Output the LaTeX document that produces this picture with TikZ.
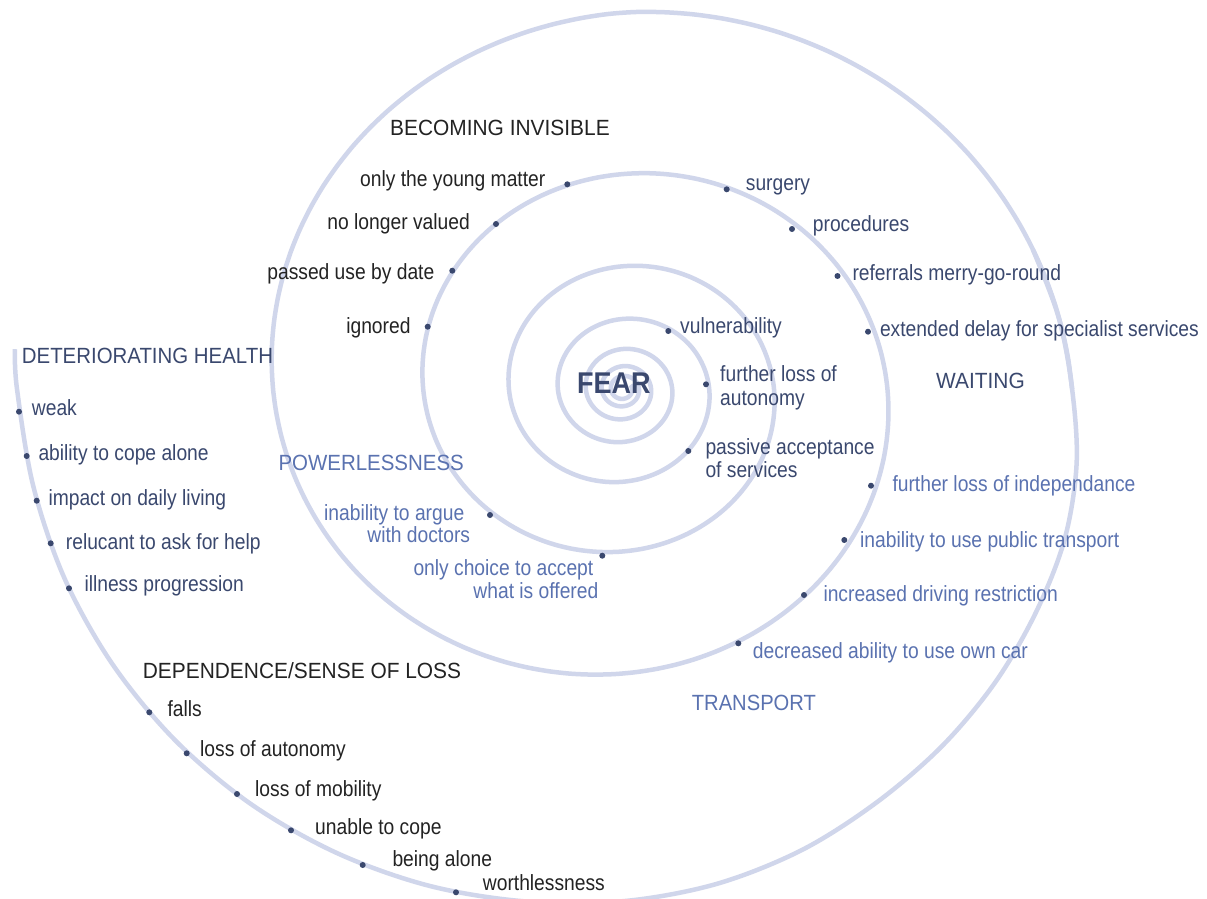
\documentclass[tikz,border=0pt]{standalone}
\usepackage{fontspec}
\usepackage{graphicx}
\setmainfont{Liberation Sans}
\newfontfamily\itemfont[FakeStretch=0.875]{Liberation Sans}
\newfontfamily\headfont[FakeStretch=0.95]{Liberation Sans}
\newfontfamily\fearfont[FakeStretch=0.9]{Liberation Sans Bold}
\definecolor{spiralc}{RGB}{208,214,235}
\definecolor{navy}{RGB}{58,72,110}
\definecolor{lblue}{RGB}{90,114,176}
\definecolor{blk}{RGB}{35,35,35}
\tikzset{
  spiral/.style={draw=spiralc, line width=4.5pt},
  dot/.style={circle, fill=navy, inner sep=0pt, minimum size=6pt},
  itm/.style={font=\fontsize{22}{24}\selectfont\itemfont, inner sep=0pt},
  hdr/.style={font=\fontsize{22}{24}\selectfont\headfont, inner sep=0pt},
  lw/.style={itm, anchor=base west},
  le/.style={itm, anchor=base east},
  hw/.style={hdr, anchor=base west},
}
\begin{document}
\begin{tikzpicture}[x=1pt,y=-1pt]
\useasboundingbox (0,0) rectangle (1207,899);
\fill[white] (0,0) rectangle (1207,899);
% spiral: inner logarithmic part
\draw[spiral] plot[domain=0:2550, samples=638, smooth, variable=\t]
  ({623+463*exp(-0.0015613*\t)*(1-0.03*(\t<90)*cos(\t))*cos(\t)},
   {389-433*exp(-0.0015613*\t)*(1-0.03*(\t<90)*cos(\t))*sin(\t)});
% spiral: outer turn
\draw[spiral] plot[smooth, tension=0.55] coordinates {
  (14.9,349.2) (17.0,389) (33.3,486.2) (64.8,579.0) (112.7,664.5)
  (175.3,740.4) (250.7,803.9) (336.6,852.9) (429.6,885.9) (526.4,901.5)
  (623,901.2) (716.3,884.0) (802.3,849.8) (877.7,801.6) (942.7,745.4)
  (995.8,681.5) (1036.1,612.0) (1064.6,539.3) (1076.6,463.8) (1072.1,389)
  (1058.6,317.2) (1032.8,249.5)};

% centre
\node[font=\fontsize{30}{32}\selectfont\fearfont, text=navy, inner sep=0pt, anchor=base west] (fear) at (577,393.5) {FEAR};

% BECOMING INVISIBLE
\node[hw, text=blk] (hinv) at (390,135) {BECOMING INVISIBLE};
\node[le, text=blk] (i1) at (545.5,186) {only the young matter};
\node[dot] (d_i1) at (567.3,184.3) {};
\node[le, text=blk] (i2) at (470,229.3) {no longer valued};
\node[dot] (d_i2) at (496,224) {};
\node[le, text=blk] (i3) at (434.5,279.3) {passed use by date};
\node[dot] (d_i3) at (452.3,270.7) {};
\node[le, text=blk] (i4) at (410.7,333.5) {ignored};
\node[dot] (d_i4) at (427.7,326.7) {};

% WAITING
\node[hw, text=navy] (hwait) at (936,388) {WAITING};
\node[dot] (d_w1) at (726.7,189.3) {};
\node[lw, text=navy] (w1) at (745.7,190.5) {surgery};
\node[dot] (d_w2) at (792,229) {};
\node[lw, text=navy] (w2) at (812.7,231.7) {procedures};
\node[dot] (d_w3) at (837.5,276) {};
\node[lw, text=navy] (w3) at (852.3,280.7) {referrals merry-go-round};
\node[dot] (d_w4) at (868,331.7) {};
\node[lw, text=navy] (w4) at (879.8,336) {extended delay for specialist services};

% inner items
\node[dot] (d_f1) at (668.3,331) {};
\node[lw, text=navy] (f1) at (680,333) {vulnerability};
\node[dot] (d_f2) at (706,384.3) {};
\node[lw, text=navy] (f2a) at (720,381) {further loss of};
\node[lw, text=navy] (f2b) at (720,405) {autonomy};
\node[dot] (d_f3) at (688.3,451) {};
\node[lw, text=navy] (f3a) at (705.3,454.5) {passive acceptance};
\node[lw, text=navy] (f3b) at (705.3,477.5) {of services};

% POWERLESSNESS
\node[hw, text=lblue] (hpow) at (278.3,470.7) {\scalebox{0.979}[1]{POWERLESSNESS}};
\node[le, text=lblue] (p1a) at (464.5,520) {inability to argue};
\node[le, text=lblue] (p1b) at (470.3,542.7) {with doctors};
\node[dot] (d_p1) at (490,515) {};
\node[le, text=lblue] (p2a) at (593.5,575) {only choice to accept};
\node[le, text=lblue] (p2b) at (598.5,598.3) {what is offered};
\node[dot] (d_p2) at (602.3,555.7) {};

% TRANSPORT
\node[hw, text=lblue] (htr) at (691.7,710.7) {\scalebox{0.965}[1]{TRANSPORT}};
\node[dot] (d_t1) at (871,485.7) {};
\node[lw, text=lblue] (t1) at (892.3,491.7) {further loss of independance};
\node[dot] (d_t2) at (844.3,540) {};
\node[lw, text=lblue] (t2) at (860,547.3) {inability to use public transport};
\node[dot] (d_t3) at (804,595) {};
\node[lw, text=lblue] (t3) at (823.3,601.7) {increased driving restriction};
\node[dot] (d_t4) at (738.3,643.3) {};
\node[lw, text=lblue] (t4) at (752.7,658.3) {decreased ability to use own car};

% DETERIORATING HEALTH
\node[hw, text=navy] (hdet) at (21.7,363.3) {\scalebox{0.977}[1]{DETERIORATING HEALTH}};
\node[dot] (d_h1) at (19,411.7) {};
\node[lw, text=navy] (h1) at (31.7,415.7) {weak};
\node[dot] (d_h2) at (26.7,456) {};
\node[lw, text=navy] (h2) at (38.3,460) {ability to cope alone};
\node[dot] (d_h3) at (36.7,500.7) {};
\node[lw, text=navy] (h3) at (48.3,505) {impact on daily living};
\node[dot] (d_h4) at (50.7,543.3) {};
\node[lw, text=navy] (h4) at (65.7,549) {relucant to ask for help};
\node[dot] (d_h5) at (69,588.3) {};
\node[lw, text=navy] (h5) at (84.3,591.7) {illness progression};

% DEPENDENCE/SENSE OF LOSS
\node[hw, text=blk] (hdep) at (142.7,678.3) {DEPENDENCE/SENSE OF LOSS};
\node[dot] (d_s1) at (149.3,712.3) {};
\node[lw, text=blk] (s1) at (167.3,716.7) {falls};
\node[dot] (d_s2) at (186.7,753.3) {};
\node[lw, text=blk] (s2) at (200,756) {loss of autonomy};
\node[dot] (d_s3) at (237,794) {};
\node[lw, text=blk] (s3) at (255,796.7) {loss of mobility};
\node[dot] (d_s4) at (291,830.3) {};
\node[lw, text=blk] (s4) at (315,834) {unable to cope};
\node[dot] (d_s5) at (362.7,865) {};
\node[lw, text=blk] (s5) at (392.3,866.7) {being alone};
\node[dot] (d_s6) at (456,892.3) {};
\node[lw, text=blk] (s6) at (482.7,890.7) {worthlessness};
\end{tikzpicture}
\end{document}
